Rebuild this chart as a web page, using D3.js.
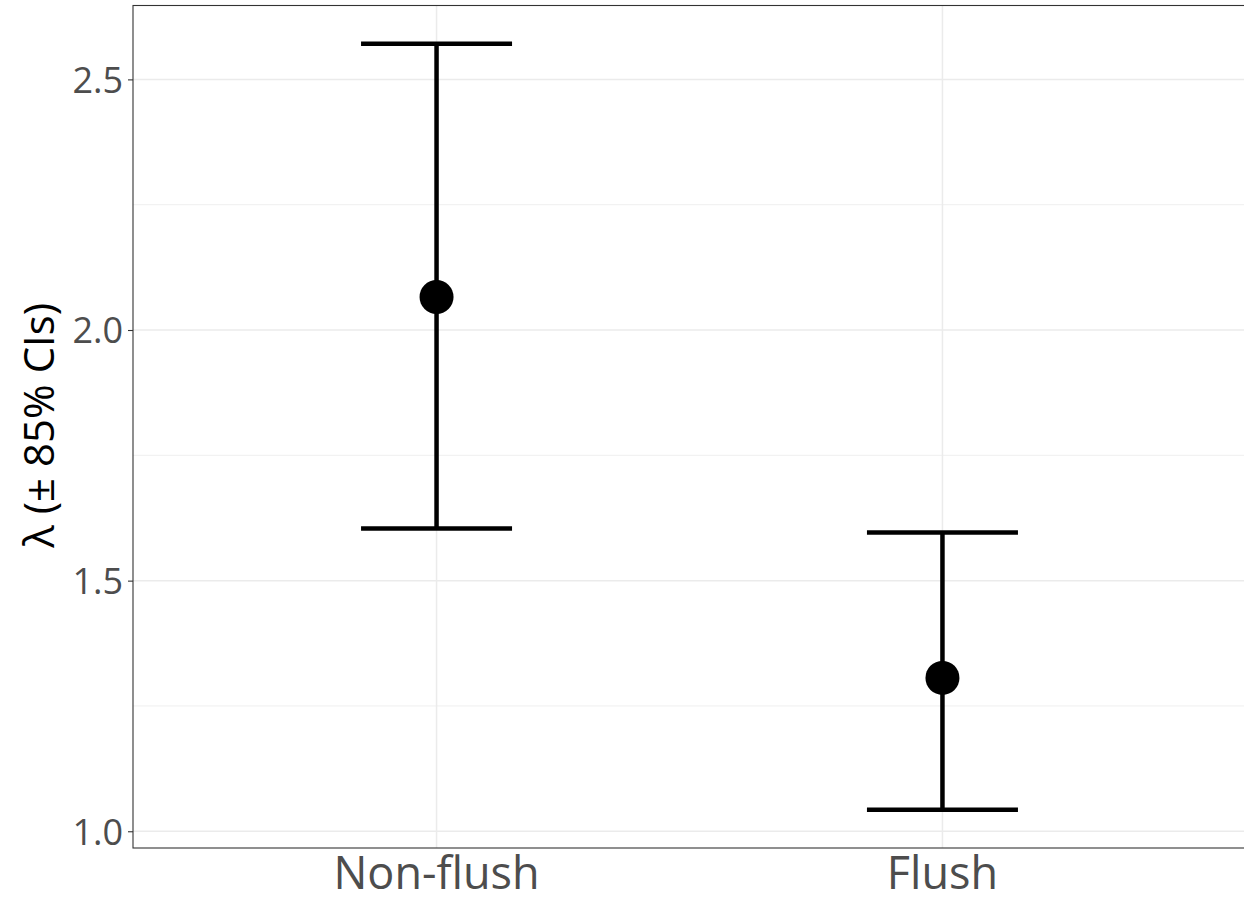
<!DOCTYPE html>
<html>
<head>
<meta charset="utf-8">
<script src="https://d3js.org/d3.v7.min.js"></script>
<style>
  body { margin: 0; background: #fff; }
  text { font-family: "Open Sans", "DejaVu Sans", sans-serif; }
</style>
</head>
<body>
<div id="chart"></div>
<script>
// data
var groups = ["Non-flush", "Flush"]
var lambda = [2.066, 1.306]
var lower = [1.604, 1.043]
var upper = [2.571, 1.596]
var majorTicks = [1.0, 1.5, 2.0, 2.5]
var minorTicks = [1.25, 1.75, 2.25]

var width = 1244, height = 902
var margin = {top: 5.5, right: -2, bottom: 54, left: 133}
var w = width - margin.left - margin.right,
    h = height - margin.top - margin.bottom

var svg = d3.select("#chart").append("svg")
  .attr("width", width)
  .attr("height", height)

var g = svg.append("g")
  .attr("transform", "translate(" + margin.left + "," + margin.top + ")")

// discrete x with ggplot's 0.6 expansion on each side
var x = d3.scalePoint()
  .domain(groups)
  .range([0.6 / 2.2 * w, 1.6 / 2.2 * w])

// continuous y with 5% expansion
var lo = d3.min(lower), hi = d3.max(upper)
var pad = (hi - lo) * 0.05
var y = d3.scaleLinear()
  .domain([lo - pad, hi + pad])
  .range([h, 0])

// grid
g.selectAll(".minor").data(minorTicks).enter().append("line")
  .attr("x1", 0).attr("x2", w)
  .attr("y1", function(d) { return y(d) }).attr("y2", function(d) { return y(d) })
  .attr("stroke", "#ebebeb").attr("stroke-width", 0.8)

g.selectAll(".major").data(majorTicks).enter().append("line")
  .attr("x1", 0).attr("x2", w)
  .attr("y1", function(d) { return y(d) }).attr("y2", function(d) { return y(d) })
  .attr("stroke", "#ebebeb").attr("stroke-width", 1.5)

g.selectAll(".vgrid").data(groups).enter().append("line")
  .attr("x1", function(d) { return x(d) }).attr("x2", function(d) { return x(d) })
  .attr("y1", 0).attr("y2", h)
  .attr("stroke", "#ebebeb").attr("stroke-width", 1.5)

// error bars
var capHalf = 75.5
var bars = g.selectAll(".bar").data(groups).enter().append("g")

bars.append("line")
  .attr("x1", function(d) { return x(d) }).attr("x2", function(d) { return x(d) })
  .attr("y1", function(d, i) { return y(upper[i]) })
  .attr("y2", function(d, i) { return y(lower[i]) })
  .attr("stroke", "#000").attr("stroke-width", 4.5)

bars.append("line")
  .attr("x1", function(d) { return x(d) - capHalf }).attr("x2", function(d) { return x(d) + capHalf })
  .attr("y1", function(d, i) { return y(upper[i]) }).attr("y2", function(d, i) { return y(upper[i]) })
  .attr("stroke", "#000").attr("stroke-width", 4.5)

bars.append("line")
  .attr("x1", function(d) { return x(d) - capHalf }).attr("x2", function(d) { return x(d) + capHalf })
  .attr("y1", function(d, i) { return y(lower[i]) }).attr("y2", function(d, i) { return y(lower[i]) })
  .attr("stroke", "#000").attr("stroke-width", 4.5)

bars.append("circle")
  .attr("cx", function(d) { return x(d) })
  .attr("cy", function(d, i) { return y(lambda[i]) })
  .attr("r", 17)
  .attr("fill", "#000")

// panel border
g.append("rect")
  .attr("x", 0).attr("y", 0).attr("width", w).attr("height", h)
  .attr("fill", "none").attr("stroke", "#333").attr("stroke-width", 1.1)

// y axis
var yAxis = g.append("g")
  .call(d3.axisLeft(y).tickValues(majorTicks).tickFormat(d3.format(".1f")).tickSize(5).tickPadding(5))
yAxis.select(".domain").remove()
yAxis.selectAll(".tick line").attr("stroke", "#333").attr("stroke-width", 1.1)
yAxis.selectAll(".tick text")
  .attr("fill", "#4d4d4d")
  .style("font-size", "36px")
  .attr("dy", "0.36em")

// x axis labels
g.selectAll(".xlab").data(groups).enter().append("text")
  .attr("x", function(d) { return x(d) })
  .attr("y", h + 41)
  .attr("text-anchor", "middle")
  .attr("fill", "#4d4d4d")
  .style("font-size", "45px")
  .text(function(d) { return d })

// y title
svg.append("text")
  .attr("transform", "translate(54," + (margin.top + y(1.81)) + ") rotate(-90)")
  .attr("text-anchor", "middle")
  .attr("fill", "#000")
  .style("font-size", "42px")
  .text("λ (± 85% CIs)")
</script>
</body>
</html>
